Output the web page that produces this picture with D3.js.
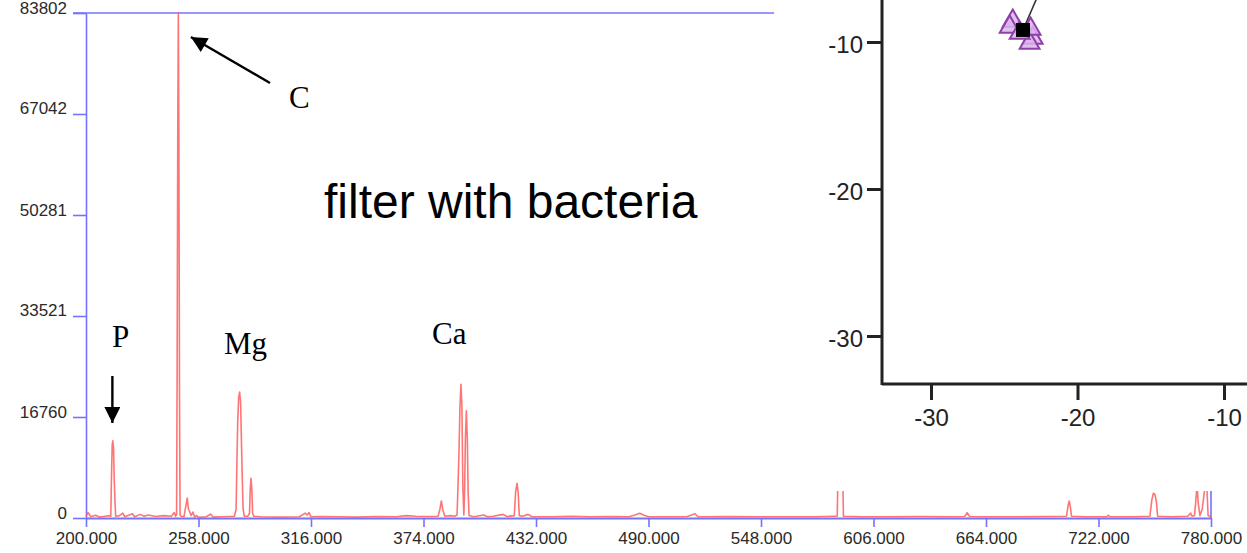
<!DOCTYPE html>
<html>
<head>
<meta charset="utf-8">
<script src="https://cdn.jsdelivr.net/npm/d3@7/dist/d3.min.js"></script>
<style>
  html, body { margin: 0; padding: 0; background: #fff; }
  svg { display: block; }
</style>
</head>
<body>
<svg id="chart" width="1247" height="553"></svg>
<script>
// Emission spectrum: wavelength (nm) and intensity (counts)
const wavelengths = [
  200, 201, 202.5, 205, 207, 210, 212.5, 212.8, 213.1, 213.5, 213.8, 214.2, 214.6, 215.0, 215.3,
  217, 219, 220, 224, 225, 228, 230, 232, 236, 240, 244, 245.5, 246.2,
  246.7, 246.95, 247.3, 247.6, 247.9, 248.2, 248.5, 249,
  250.5, 251.5, 252.2, 252.8, 253.5, 254.2, 255.1, 256, 257, 258, 262, 264.2, 265.5, 270,
  276.5, 277.4, 277.7, 278.2, 278.7, 279.2, 279.7, 280.2, 280.6, 281.0, 281.6,
  283.5, 284.3, 284.7, 285.1, 285.5, 285.9, 286.5,
  290, 300, 310, 313, 314, 315, 316, 320, 330, 340, 350, 360, 365, 370, 378,
  381.5, 382.5, 383.2, 384, 385, 388, 390,
  391.3, 391.8, 392.3, 392.8, 393.3, 393.8, 394.3, 394.8, 395.2, 395.6, 396.1, 396.6, 397.0, 397.5,
  400, 405, 407, 410, 415, 417, 420.8, 421.5, 422.2, 422.8, 423.4,
  425, 428, 430, 440, 450, 460, 470, 480, 483, 485.5, 488, 490,
  500, 510, 514, 515.5, 520, 530, 545, 560, 575, 586,
  587.3, 587.6, 588.5, 589.3, 590.2, 590.5,
  600, 615, 630, 645, 653, 654.3, 655.5, 665, 680, 695,
  705.5, 706.3, 706.9, 707.5, 708.1, 715, 726.3, 727.1, 728, 740,
  748.5, 749.5, 750.3, 751.0, 751.8, 752.5, 760, 768, 769.5, 770.2,
  771.5, 772.2, 772.8, 773.4, 774.3, 775.5, 777.0, 777.8, 778.5, 780
];
const intensities = [
  300, 900, 200, 450, 150, 300, 400, 300, 6300, 12000, 12800, 11600, 6000, 2400, 300,
  350, 800, 200, 700, 200, 600, 300, 500, 250, 400, 300, 900, 300,
  600, 21000, 62700, 83802, 62700, 21000, 500, 300,
  200, 2000, 3300, 1500, 1000, 400, 1000, 150, 400, 100, 200, 650, 150, 200,
  300, 1500, 7500, 15700, 20000, 20900, 19200, 11800, 6300, 1500, 300,
  300, 800, 5000, 6600, 4800, 800, 300,
  200, 150, 200, 800, 500, 900, 200, 250, 200, 150, 250, 200, 400, 300, 250,
  300, 1500, 2820, 1300, 300, 400, 300,
  500, 5500, 11000, 18500, 22200, 18500, 5000, 500, 4600, 13200, 17800, 13000, 4500, 400,
  200, 500, 200, 300, 600, 250, 400, 4300, 5760, 4300, 400,
  300, 600, 200, 200, 300, 200, 250, 200, 500, 800, 400, 200,
  200, 250, 700, 200, 200, 250, 200, 200, 200, 300,
  300, 5800, 7500, 7000, 5800, 300,
  200, 200, 250, 200, 250, 900, 250, 200, 200, 250,
  300, 2000, 2820, 1800, 300, 200, 200, 450, 200, 200,
  300, 3000, 4100, 4000, 2800, 300, 200, 300, 800, 300,
  400, 3000, 5500, 2500, 400, 1500, 5500, 5800, 400, 200
];
const yTickValues = [0, 16760, 33521, 50281, 67042, 83802];
const xTickValues = [200, 258, 316, 374, 432, 490, 548, 606, 664, 722, 780];

// Element labels placed above their lines
const elementNames = ["P", "C", "Mg", "Ca"];
const elementWavelengths = [213.6, 247.9, 279.5, 393.4];

// Inset scatter (score plot)
const triX = [-24.42, -24.63, -23.06, -23.27, -23.2, -23.95];
const triY = [-8.57, -8.98, -9.73, -10.07, -9.12, -9.39];
const centroidX = [-23.72];
const centroidY = [-9.18];
const linkX = [-23.72, -21.9];
const linkY = [-9.18, -5.0];
const insetXTicks = [-30, -20, -10];
const insetYTicks = [-10, -20, -30];

const svg = d3.select("#chart");
const blue = "#7373ff";
const red = "#ff5c5c";

const x = d3.scaleLinear().domain([200, 780]).range([86, 1211]);
const y = d3.scaleLinear().domain([0, 83802]).range([518, 13]);

// frame: top border, right border
svg.append("line").attr("x1", 73).attr("x2", x(780)).attr("y1", y(83802)).attr("y2", y(83802))
  .attr("stroke", blue).attr("stroke-width", 1.6);
svg.append("line").attr("x1", x(780)).attr("x2", x(780)).attr("y1", y(83802)).attr("y2", y(0))
  .attr("stroke", blue).attr("stroke-width", 1.6);

// y axis
const yAxis = d3.axisLeft(y).tickValues(yTickValues).tickSize(13).tickSizeOuter(0)
  .tickFormat(d3.format("d"));
const gy = svg.append("g").attr("transform", `translate(${x(200)},0)`).call(yAxis);
gy.select(".domain").attr("stroke", blue).attr("stroke-width", 1.6);
gy.selectAll(".tick line").attr("stroke", blue).attr("stroke-width", 1.6);
gy.selectAll(".tick text").attr("x", -19).attr("dy", "0")
  .attr("font-family", "Arial, 'Liberation Sans', sans-serif").attr("font-size", 17)
  .attr("fill", "#2a2a2a");

// x axis
const xAxis = d3.axisBottom(x).tickValues(xTickValues).tickSize(9).tickSizeOuter(0)
  .tickFormat(d3.format(".3f"));
const gx = svg.append("g").attr("transform", `translate(0,${y(0)})`).call(xAxis);
gx.select(".domain").attr("stroke", blue).attr("stroke-width", 1.8);
gx.selectAll(".tick line").attr("stroke", blue).attr("stroke-width", 1.6);
gx.selectAll(".tick text").attr("y", 26).attr("dy", "0")
  .attr("font-family", "Arial, 'Liberation Sans', sans-serif").attr("font-size", 17)
  .attr("fill", "#2a2a2a");

// spectrum trace
const spectrum = wavelengths.map((w, i) => [w, intensities[i]]);
svg.append("path")
  .datum(spectrum)
  .attr("d", d3.line().x(d => x(d[0])).y(d => y(d[1])))
  .attr("fill", "none")
  .attr("stroke", red)
  .attr("stroke-opacity", 0.85)
  .attr("stroke-width", 1.6)
  .attr("stroke-linejoin", "round");

// title text
svg.append("text").attr("x", 324).attr("y", 218)
  .attr("font-family", "Arial, 'Liberation Sans', sans-serif").attr("font-size", 48)
  .attr("fill", "#000").text("filter with bacteria");

// element annotations
svg.append("defs").append("marker")
  .attr("id", "head").attr("viewBox", "0 0 10 10").attr("refX", 10).attr("refY", 5)
  .attr("markerWidth", 20).attr("markerHeight", 16).attr("markerUnits", "userSpaceOnUse")
  .attr("orient", "auto")
  .append("path").attr("d", "M0,0 L10,5 L0,10 z").attr("fill", "#000");

const serif = "'Times New Roman', 'Liberation Serif', serif";
const labelPos = [[112, 347], [289, 108], [224, 354], [432, 344]];
elementNames.forEach((n, i) => {
  svg.append("text").attr("x", labelPos[i][0]).attr("y", labelPos[i][1])
    .attr("font-family", serif).attr("font-size", 31).attr("fill", "#000").text(n);
});
// arrow to P line
svg.append("line").attr("x1", x(elementWavelengths[0])).attr("y1", 376)
  .attr("x2", x(elementWavelengths[0])).attr("y2", 423)
  .attr("stroke", "#000").attr("stroke-width", 2.4).attr("marker-end", "url(#head)");
// arrow to C line
svg.append("line").attr("x1", 270).attr("y1", 83)
  .attr("x2", x(elementWavelengths[1]) + 12).attr("y2", 37)
  .attr("stroke", "#000").attr("stroke-width", 2.4).attr("marker-end", "url(#head)");

// ---- inset score plot ----
const inset = svg.append("g");
inset.append("rect").attr("x", 774).attr("y", 0).attr("width", 473).attr("height", 491).attr("fill", "#fff");

const xi = d3.scaleLinear().domain([-30, -10]).range([931, 1224]);
const yi = d3.scaleLinear().domain([-10, -30]).range([42, 336]);

inset.append("defs").append("clipPath").attr("id", "insetClip")
  .append("rect").attr("x", 882).attr("y", 0).attr("width", 365).attr("height", 384);

const plot = inset.append("g").attr("clip-path", "url(#insetClip)");
plot.append("path")
  .datum(linkX.map((v, i) => [v, linkY[i]]))
  .attr("d", d3.line().x(d => xi(d[0])).y(d => yi(d[1])))
  .attr("stroke", "#333").attr("stroke-width", 1.6).attr("fill", "none");
const tri = d3.symbol().type(d3.symbolTriangle).size(170);
plot.selectAll("path.tri").data(triX.map((v, i) => [v, triY[i]])).join("path")
  .attr("class", "tri")
  .attr("d", tri)
  .attr("transform", d => `translate(${xi(d[0])},${yi(d[1])})`)
  .attr("fill", "#dcb4ec").attr("fill-opacity", 0.85)
  .attr("stroke", "#8e3fa8").attr("stroke-width", 2);
plot.selectAll("rect.cent").data(centroidX.map((v, i) => [v, centroidY[i]])).join("rect")
  .attr("class", "cent")
  .attr("x", d => xi(d[0]) - 7).attr("y", d => yi(d[1]) - 7)
  .attr("width", 14).attr("height", 14).attr("fill", "#000");

const ixAxis = d3.axisBottom(xi).tickValues(insetXTicks).tickSize(16).tickSizeOuter(0);
const gix = inset.append("g").attr("transform", "translate(0,384)").call(ixAxis);
gix.select(".domain").attr("d", "M882,0H1247").attr("stroke", "#222").attr("stroke-width", 3);
gix.selectAll(".tick line").attr("stroke", "#222").attr("stroke-width", 3);
gix.selectAll(".tick text").attr("y", 42).attr("dy", "0")
  .attr("font-family", "Arial, 'Liberation Sans', sans-serif").attr("font-size", 24).attr("fill", "#222");

const iyAxis = d3.axisLeft(yi).tickValues(insetYTicks).tickSize(15).tickSizeOuter(0);
const giy = inset.append("g").attr("transform", "translate(882,0)").call(iyAxis);
giy.select(".domain").attr("d", "M0,0V385").attr("stroke", "#222").attr("stroke-width", 3);
giy.selectAll(".tick line").attr("stroke", "#222").attr("stroke-width", 3);
giy.selectAll(".tick text").attr("x", -19).attr("dy", "0.45em")
  .attr("font-family", "Arial, 'Liberation Sans', sans-serif").attr("font-size", 24).attr("fill", "#222");
gix.selectAll("text").text(d => d3.format("d")(d).replace("−", "-"));
giy.selectAll("text").text(d => d3.format("d")(d).replace("−", "-"));
</script>
</body>
</html>
